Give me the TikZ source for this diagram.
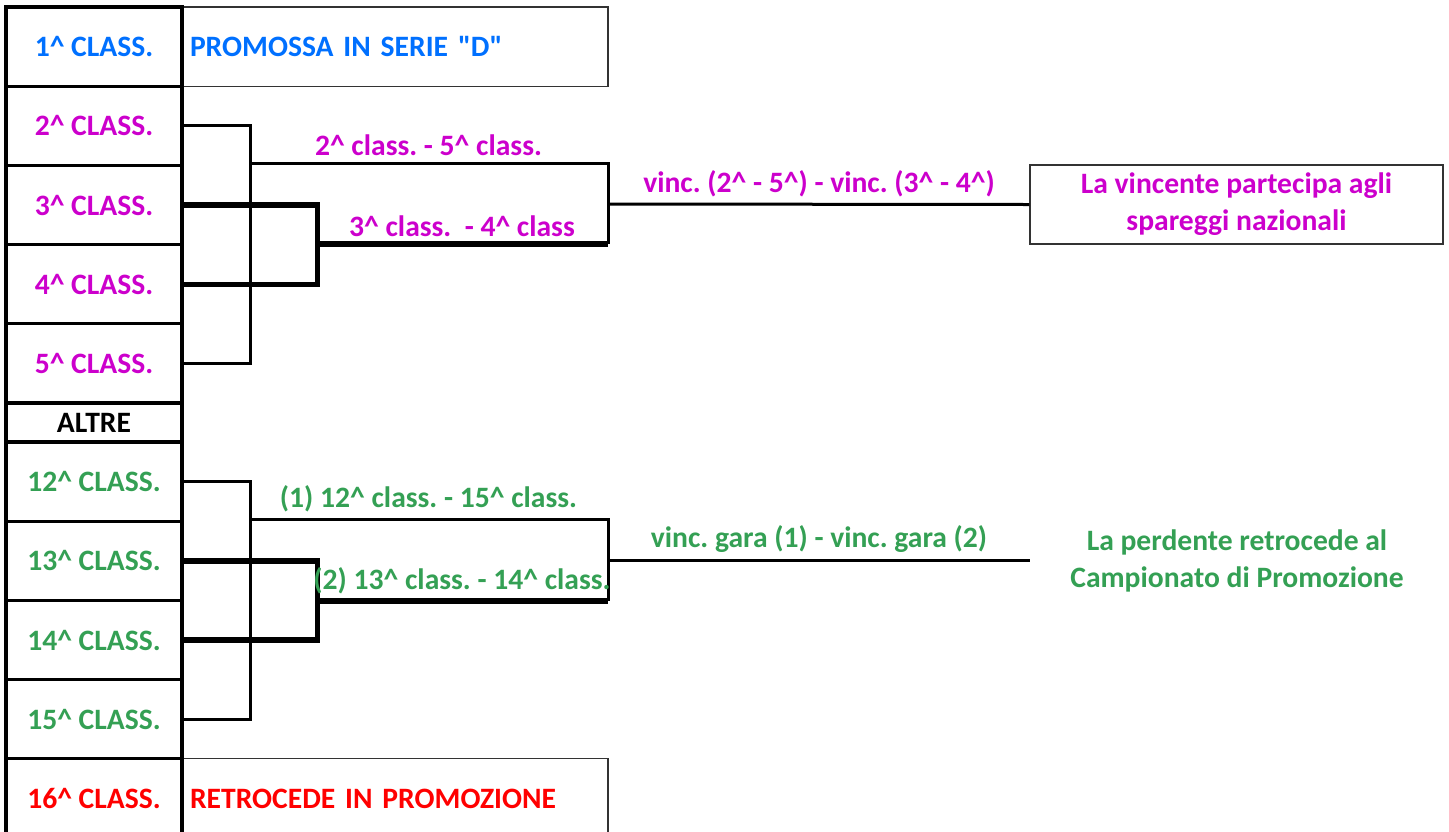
\documentclass[tikz,border=0pt]{standalone}
\usepackage{fontspec}
\setmainfont{Carlito}
\usetikzlibrary{positioning}
\definecolor{promblue}{RGB}{0,112,255}
\definecolor{playmag}{RGB}{204,0,204}
\definecolor{outgreen}{RGB}{52,160,84}
\definecolor{relred}{RGB}{255,0,0}
\newcommand{\crt}{\textasciicircum}
\frenchspacing

\begin{document}
\begin{tikzpicture}[x=0.5pt,y=-0.5pt,
    every node/.style={font=\bfseries\fontsize{14.8}{18.5}\selectfont},
    cell/.style={draw=black,line width=1.6pt,minimum width=88pt,minimum height=39.6pt,inner sep=0pt},
    wide/.style={draw=black!80,line width=0.6pt,minimum width=213pt,minimum height=39.6pt,text width=205pt,align=left,inner xsep=4pt},
    thinline/.style={line width=1.5pt},
    thickline/.style={line width=2.7pt}]

\useasboundingbox (0,0) rectangle (1449,831);

% Outcome boxes
\node[wide,text=promblue] (prom) at (395,46.6) {PROMOSSA IN SERIE \textquotedbl D\textquotedbl};
\node[wide,text=relred] (retro) at (395,798.4) {RETROCEDE IN PROMOZIONE};

% Standings column
\node[cell,text=promblue] (c1) at (94,46.6) {1\crt{} CLASS.};
\node[cell,text=playmag] (c2) at (94,125.8) {2\crt{} CLASS.};
\node[cell,text=playmag] (c3) at (94,205) {3\crt{} CLASS.};
\node[cell,text=playmag] (c4) at (94,284.2) {4\crt{} CLASS.};
\node[cell,text=playmag] (c5) at (94,363.4) {5\crt{} CLASS.};
\node[cell,minimum height=19.5pt] (altre) at (94,422.5) {ALTRE};
\node[cell,text=outgreen] (c12) at (94,481.6) {12\crt{} CLASS.};
\node[cell,text=outgreen] (c13) at (94,560.8) {13\crt{} CLASS.};
\node[cell,text=outgreen] (c14) at (94,640) {14\crt{} CLASS.};
\node[cell,text=outgreen] (c15) at (94,719.2) {15\crt{} CLASS.};
\node[cell,text=relred] (c16) at (94,798.4) {16\crt{} CLASS.};

% Final results
\node[draw=black!80,line width=0.6pt,minimum width=206.5pt,minimum height=39.5pt,align=center,text=playmag]
    (win) at (1236.5,204.5) {La vincente partecipa agli\\spareggi nazionali};
\node[align=center,text=outgreen] (lose) at (1237,561) {La perdente retrocede al\\Campionato di Promozione};

%% Play-off

\coordinate (j25) at (249,163);
\coordinate (j34) at (316,244);
\coordinate (t25) at (608,163);
\coordinate (t34) at (608,244);
\coordinate (tw) at (608,204);

\draw[thinline] (c2.east) -- ++(67,0) |- (c5.east);
\draw[thickline] (c3.east) -- ++(134,0) |- (c4.east);
\draw[thinline] (j25) -- (t25) -- (t34);
\draw[thickline] (j34) -- (t34);
\draw[thinline] (tw) -- (win.west);

\node[above,text=playmag] (l25) at (428.5,163) {2\crt{} class. - 5\crt{} class.};
\node[above,text=playmag] (l34) at (462,244) {3\crt{} class.~ - 4\crt{} class};
\node[above,text=playmag] (lw) at (819,204) {vinc. (2\crt{} - 5\crt{}) - vinc. (3\crt{} - 4\crt{})};

%% Play-out

\coordinate (j1215) at (249,519);
\coordinate (j1314) at (316,601);
\coordinate (t1215) at (608,519);
\coordinate (t1314) at (608,601);
\coordinate (tl) at (608,560);
\coordinate (el) at (1030,560);

\draw[thinline] (c12.east) -- ++(67,0) |- (c15.east);
\draw[thickline] (c13.east) -- ++(134,0) |- (c14.east);
\draw[thinline] (j1215) -- (t1215) -- (t1314);
\draw[thickline] (j1314) -- (t1314);
\draw[thinline] (tl) -- (el);

\node[above,text=outgreen] (l1215) at (428.5,519) {(1) 12\crt{} class. - 15\crt{} class.};
\node[above,text=outgreen] (l1314) at (462,601) {(2) 13\crt{} class. - 14\crt{} class.};
\node[above,text=outgreen] (ll) at (819,560) {vinc. gara (1) - vinc. gara (2)};

\end{tikzpicture}
\end{document}
